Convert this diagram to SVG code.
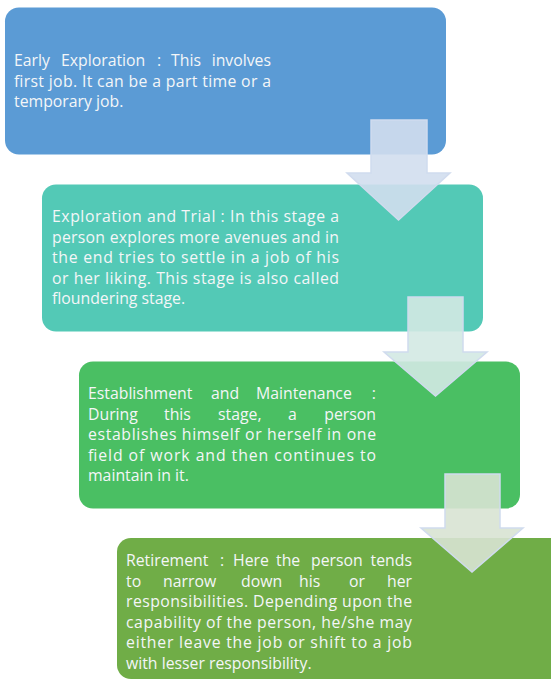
<svg xmlns="http://www.w3.org/2000/svg" width="551" height="680" viewBox="0 0 551 680">
<style>
.box{stroke:none}
.t{font-family:"Open Sans",Lato,"Liberation Sans",sans-serif;font-size:15.8px;fill:#F4F6F8}
.arr{fill-opacity:0.9;stroke:#D0DBEE;stroke-width:1.5}
</style>
<rect width="551" height="680" fill="#FFFFFF"/>
<g id="node1">
<rect class="box" x="5" y="7.5" width="441" height="147" rx="14" fill="#5B9BD5"/>
<text class="t"><tspan x="14" y="66">Early</tspan><tspan x="61" y="66">Exploration</tspan><tspan x="157" y="66">:</tspan><tspan x="171" y="66">This</tspan><tspan x="271" y="66" text-anchor="end">involves</tspan></text>
<text class="t" x="14" y="86.5" textLength="257" lengthAdjust="spacing">first job. It can be a part time or a</text>
<text class="t" x="14" y="107">temporary job.</text>
</g>
<g id="node2">
<rect class="box" x="42" y="184.5" width="441" height="147" rx="14" fill="#53C9B6"/>
<text class="t" x="52" y="222" textLength="287" lengthAdjust="spacing">Exploration and Trial : In this stage a</text>
<text class="t" x="52" y="242.5" textLength="287" lengthAdjust="spacing">person explores more avenues and in</text>
<text class="t" x="52" y="263" textLength="287" lengthAdjust="spacing">the end tries to settle in a job of his</text>
<text class="t" x="52" y="283.5" textLength="287" lengthAdjust="spacing">or her liking. This stage is also called</text>
<text class="t" x="52" y="304">floundering stage.</text>
</g>
<g id="node3">
<rect class="box" x="79" y="361.5" width="441" height="147" rx="14" fill="#4ABF63"/>
<text class="t"><tspan x="88" y="399">Establishment</tspan><tspan x="211" y="399">and</tspan><tspan x="256" y="399">Maintenance</tspan><tspan x="376" y="399" text-anchor="end">:</tspan></text>
<text class="t"><tspan x="88" y="419.5">During</tspan><tspan x="164" y="419.5">this</tspan><tspan x="218" y="419.5">stage,</tspan><tspan x="288" y="419.5">a</tspan><tspan x="376" y="419.5" text-anchor="end">person</tspan></text>
<text class="t" x="88" y="440" textLength="288" lengthAdjust="spacing">establishes himself or herself in one</text>
<text class="t" x="88" y="460.5" textLength="288" lengthAdjust="spacing">field of work and then continues to</text>
<text class="t" x="88" y="481">maintain in it.</text>
</g>
<g id="node4">
<rect class="box" x="117" y="538" width="450" height="141" rx="14" fill="#70AD47"/>
<text class="t"><tspan x="126" y="566">Retirement</tspan><tspan x="220" y="566">:</tspan><tspan x="233" y="566">Here</tspan><tspan x="276" y="566">the</tspan><tspan x="311" y="566">person</tspan><tspan x="412" y="566" text-anchor="end">tends</tspan></text>
<text class="t"><tspan x="126" y="586.5">to</tspan><tspan x="163" y="586.5">narrow</tspan><tspan x="241" y="586.5">down</tspan><tspan x="299" y="586.5">his</tspan><tspan x="349" y="586.5">or</tspan><tspan x="412" y="586.5" text-anchor="end">her</tspan></text>
<text class="t" x="126" y="607" textLength="286" lengthAdjust="spacing">responsibilities. Depending upon the</text>
<text class="t" x="126" y="627.5" textLength="286" lengthAdjust="spacing">capability of the person, he/she may</text>
<text class="t" x="126" y="648" textLength="286" lengthAdjust="spacing">either leave the job or shift to a job</text>
<text class="t" x="126" y="668.5">with lesser responsibility.</text>
</g>
<g id="connectors">
<polygon class="arr" fill="#D1DEEE" points="371,120 427,120 427,173 450,173 398.5,220 347,173 371,173"/>
<polygon class="arr" fill="#D3E9E3" points="408,297 463,297 463,352 487,352 435.5,396 384,352 408,352"/>
<polygon class="arr" fill="#D8E3D3" points="445,474 500,474 500,528 523,528 472,572 421,528 445,528"/>
</g>
</svg>
